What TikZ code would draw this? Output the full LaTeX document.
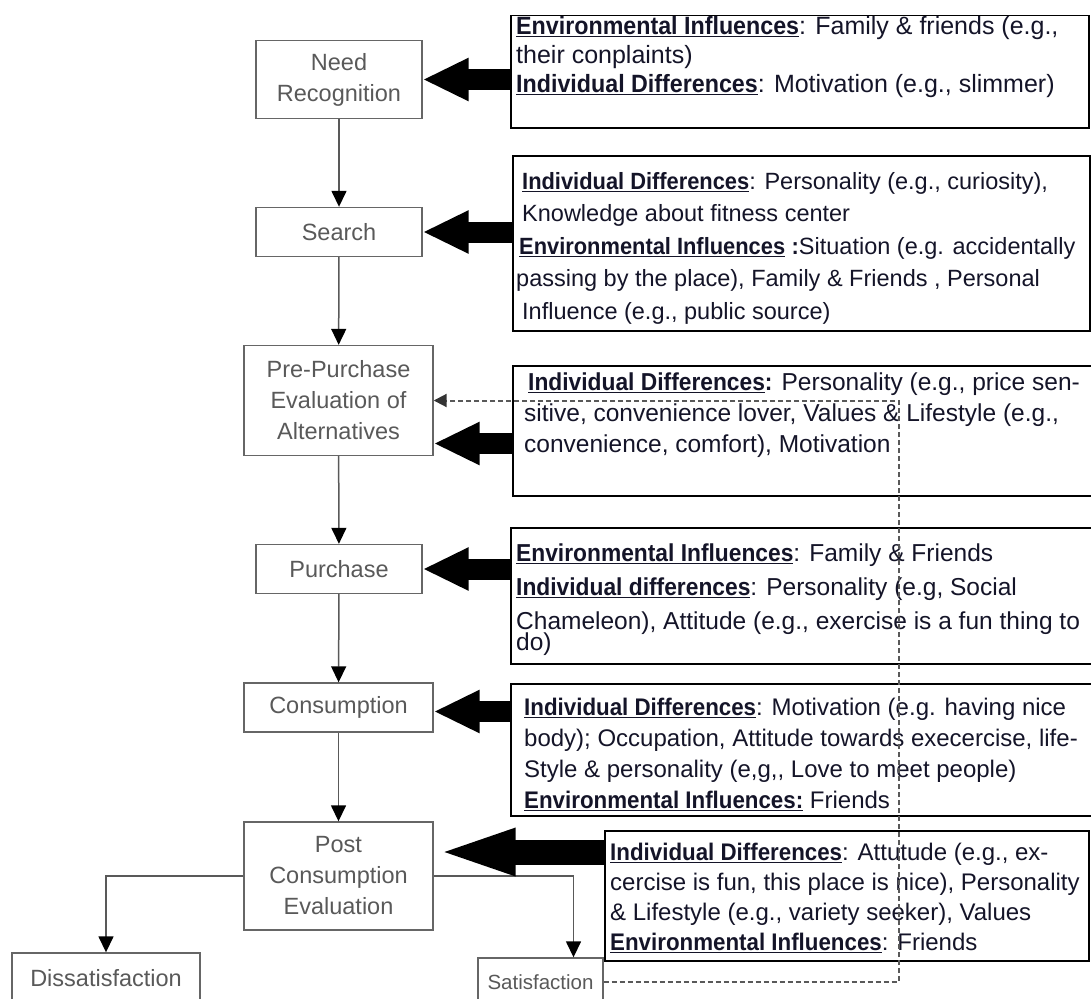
\documentclass[tikz,border=0pt]{standalone}
\usepackage{fontspec}
\setmainfont{Liberation Sans}[BoldFeatures={FakeStretch=0.93}]
\usetikzlibrary{arrows.meta, positioning, calc}
\definecolor{boxgray}{HTML}{666666}
\definecolor{txtgray}{HTML}{595959}
\definecolor{ink}{HTML}{141428}
\newcommand{\hd}[1]{\underline{\textbf{#1}}}

\begin{document}
\begin{tikzpicture}[x=1pt, y=-1pt,
    stage/.style={draw=boxgray, line width=1.4pt, text=txtgray, align=center, inner sep=2pt,
      font=\fontsize{23.5}{31}\selectfont},
    frame/.style={draw=black, line width=1.5pt, anchor=north west, inner sep=0pt},
    info/.style={anchor=north west, align=left, text=ink, inner sep=0pt,
      font=\fontsize{24.5}{31}\selectfont},
    flow/.style={draw=txtgray, line width=1.5pt, -{Triangle[length=16pt, width=15pt, color=black]}},
    blk/.style={draw=black, line width=21pt, -{Triangle[length=46pt, width=40pt]}},
    dsh/.style={draw=txtgray, line width=2pt, dash pattern=on 5pt off 3pt,
      -{Triangle[length=13pt, width=13pt, color=black!80]}}]
    \useasboundingbox (0,0) rectangle (1091,998);
    % stages of the decision process
    \node[stage, minimum width=166pt, minimum height=78pt] (need) at (339,79.5) {Need\\Recognition};
    \node[stage, minimum width=166pt, minimum height=49pt] (search) at (339,232) {Search};
    \node[stage, minimum width=189pt, minimum height=110pt] (pre) at (338.5,400.5) {Pre-Purchase\\Evaluation of\\Alternatives};
    \node[stage, minimum width=166pt, minimum height=49pt] (purch) at (339,569) {Purchase};
    \node[stage, minimum width=189pt, minimum height=49pt] (cons) at (338.5,707.5) {Consumption};
    \node[stage, minimum width=189pt, minimum height=108pt] (post) at (338.5,876) {Post\\Consumption\\Evaluation};
    \node[stage, minimum width=188pt, minimum height=50pt] (dissat) at (106,978) {Dissatisfaction};
    \node[stage, minimum width=125pt, minimum height=48pt, font=\fontsize{20.5}{26}\selectfont] (sat) at (540.5,982) {Satisfaction};
    \draw[flow] (need) -- (search);
    \draw[flow] (search) -- (pre);
    \draw[flow] (pre) -- (purch);
    \draw[flow] (purch) -- (cons);
    \draw[flow] (cons) -- (post);
    \draw[flow] (post.west) -| (dissat.north);
    \draw[flow] (post.east) -| ([xshift=33pt]sat.north);
    % influence boxes
    \node[frame, minimum width=578pt, minimum height=112pt] (f1) at (510,15) {};
    \node[frame, minimum width=577pt, minimum height=175pt] (f2) at (512,155) {};
    \node[frame, minimum width=580pt, minimum height=130pt] (f3) at (512,365) {};
    \node[frame, minimum width=582pt, minimum height=136pt] (f4) at (510,527) {};
    \node[frame, minimum width=582pt, minimum height=132pt] (f5) at (510,683) {};
    \node[frame, minimum width=484pt, minimum height=130pt] (f6) at (604,830) {};
    \node[info, font=\fontsize{25}{29}\selectfont] (t1) at ([shift={(6pt,-1pt)}]f1.north west)
      {\hd{Environmental Influences}: Family \& friends (e.g.,\\their conplaints)\\\hd{Individual Differences}: Motivation (e.g., slimmer)};
    \node[info, font=\fontsize{23.5}{32.5}\selectfont] (t2) at ([shift={(4pt,-17pt)}]f2.north west)
      {\hspace*{6pt}\hd{Individual Differences}: Personality (e.g., curiosity),\\\hspace*{6pt}Knowledge about fitness center\\\hspace*{3pt}\hd{Environmental Influences} \textbf{:}Situation (e.g. accidentally\\passing by the place), Family \& Friends , Personal\\\hspace*{6pt}Influence (e.g., public source)};
    \node[info] (t3) at ([shift={(12pt,-8pt)}]f3.north west)
      {\hspace*{4pt}\textbf{\underline{Individual Differences}:} Personality (e.g., price sen-\\sitive, convenience lover, Values \& Lifestyle (e.g.,\\convenience, comfort), Motivation};
    \node[info, font=\fontsize{24.5}{34}\selectfont] (t4) at ([shift={(6pt,-17pt)}]f4.north west)
      {\hd{Environmental Influences}: Family \& Friends\\\hd{Individual differences}: Personality (e.g, Social\\Chameleon), Attitude (e.g., exercise is a fun thing to\\[-13pt]do)};
    \node[info, font=\fontsize{24}{31}\selectfont] (t5) at ([shift={(14pt,-15pt)}]f5.north west)
      {\hd{Individual Differences}: Motivation (e.g. having nice\\body); Occupation, Attitude towards execercise, life-\\Style \& personality (e,g,{},{} Love to meet people)\\\underline{\textbf{Environmental Influences:}} Friends};
    \node[info, font=\fontsize{24}{30}\selectfont] (t6) at ([shift={(6pt,-13pt)}]f6.north west)
      {\hd{Individual Differences}: Attutude (e.g., ex-\\cercise is fun, this place is nice), Personality\\\& Lifestyle (e.g., variety seeker), Values\\\hd{Environmental Influences}: Friends};
    % block arrows
    \draw[blk] (need.east -| f1.west) -- (need.east);
    \draw[blk] (search.east -| f2.west) -- (search.east);
    \draw[blk] ([yshift=-43pt]pre.east -| f3.west) -- ([yshift=-43pt]pre.east);
    \draw[blk] (purch.east -| f4.west) -- (purch.east);
    \draw[blk] ([yshift=-4pt]cons.east -| f5.west) -- ([yshift=-4pt]cons.east);
    \draw[blk, line width=25pt, -{Triangle[length=82pt, width=41pt]}] ([yshift=24pt]post.east -| f6.west) -- ([yshift=24pt]post.east);
    % feedback loop
    \coordinate (turn) at ([xshift=465pt]pre.east);
    \draw[dsh] (sat.east) -| (turn) -- (pre.east);
\end{tikzpicture}
\end{document}
